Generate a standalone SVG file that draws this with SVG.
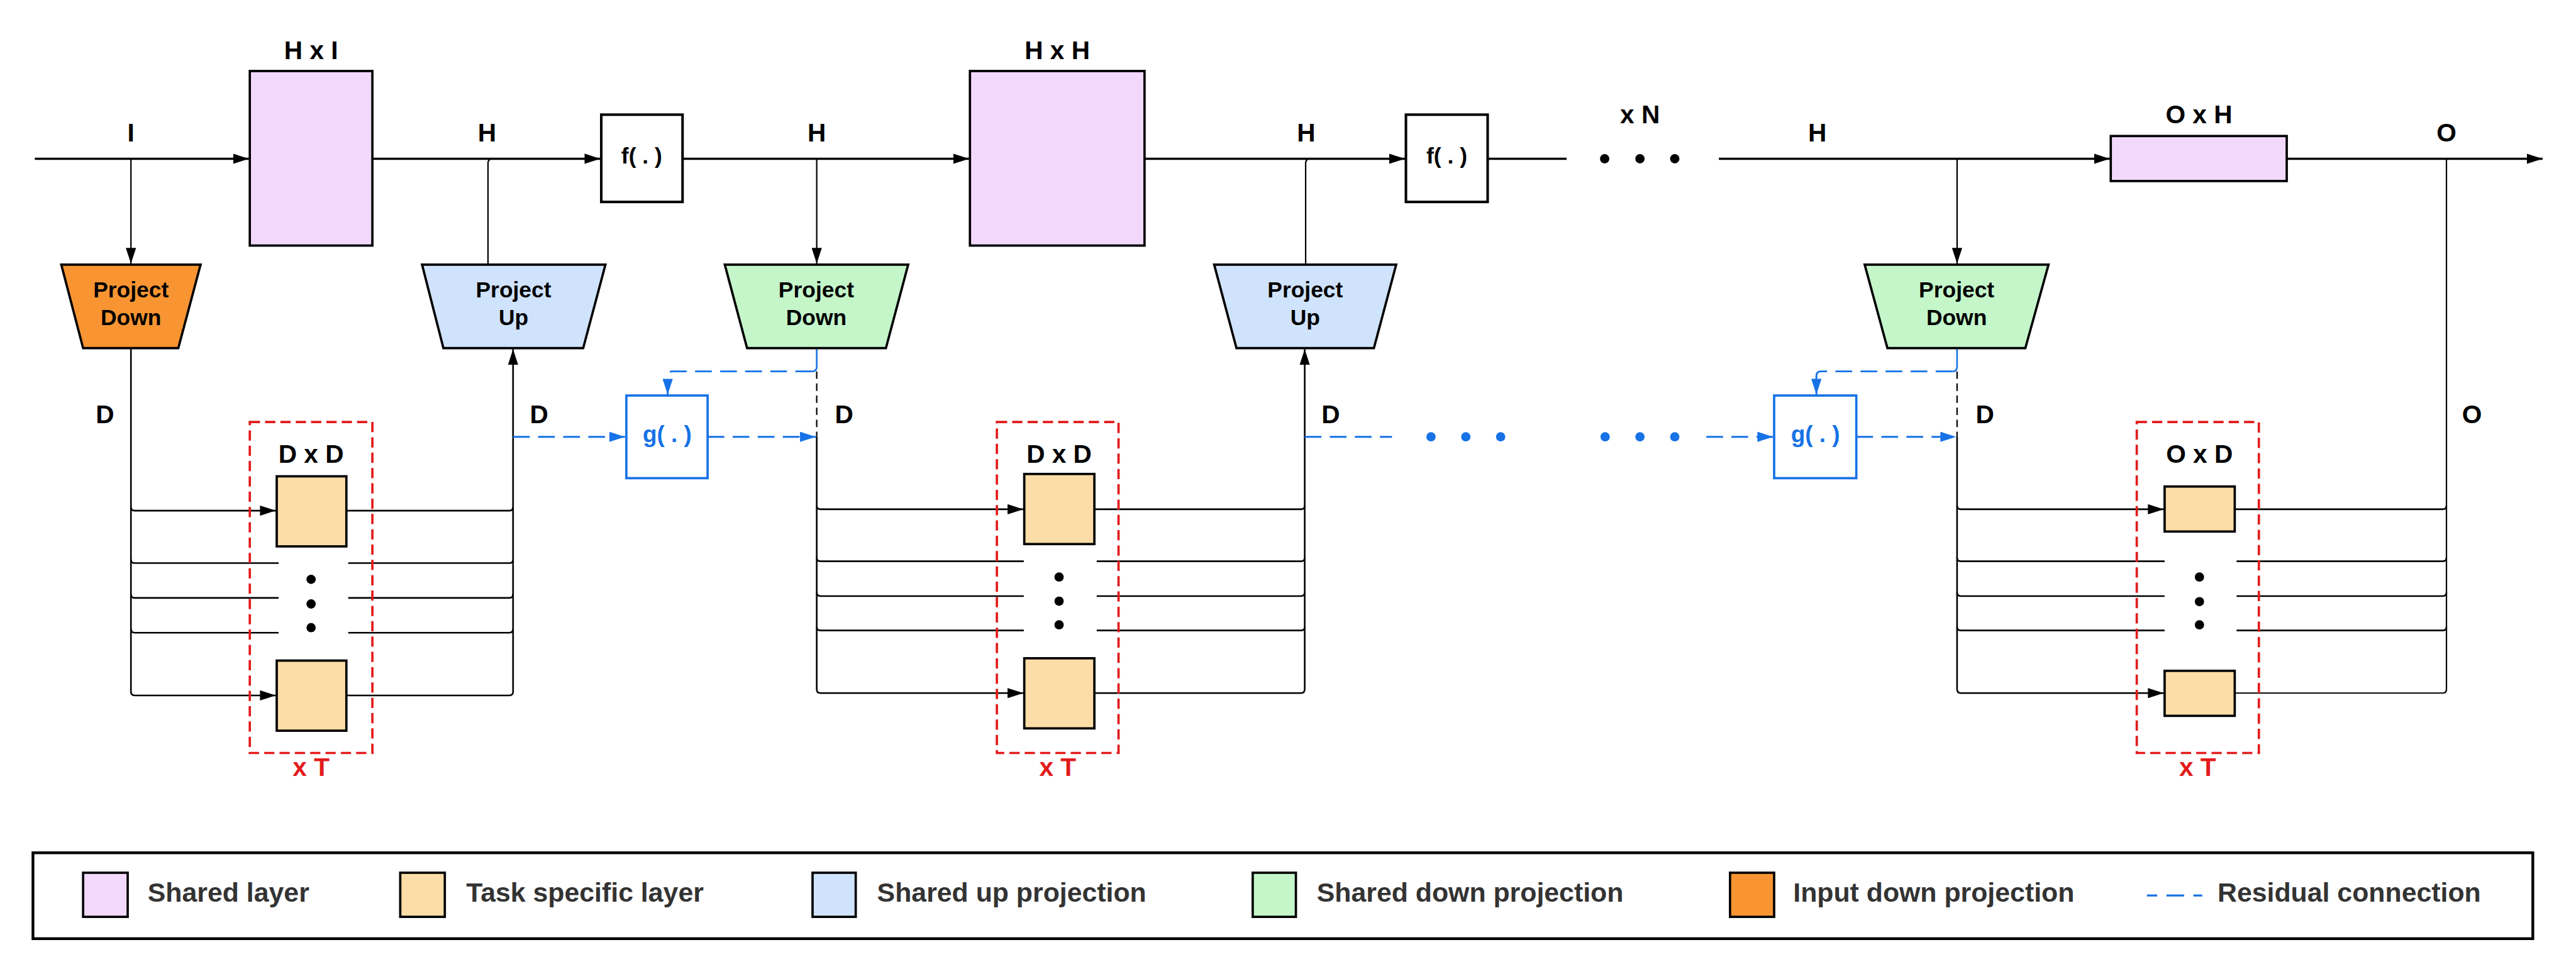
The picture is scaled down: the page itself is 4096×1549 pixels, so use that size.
<svg xmlns="http://www.w3.org/2000/svg" width="4096" height="1549" viewBox="0 0 4096 1549">
<defs>
<marker id="ah" markerUnits="userSpaceOnUse" markerWidth="36" markerHeight="22" refX="34" refY="11" orient="auto" viewBox="0 0 36 22"><path d="M0,0 L34,11 L0,22 z" fill="#000"/></marker>
<marker id="ahb" markerUnits="userSpaceOnUse" markerWidth="36" markerHeight="22" refX="34" refY="11" orient="auto" viewBox="0 0 36 22"><path d="M0,0 L34,11 L0,22 z" fill="#1672e6"/></marker>
</defs>
<style>
text{font-family:"Liberation Sans",Arial,sans-serif;font-weight:bold;}
.lbl{font-size:55px;fill:#000;text-anchor:middle;}
.tl{font-size:48px;fill:#000;text-anchor:middle;}
.red{font-size:55px;fill:#e31b1b;text-anchor:middle;}
.gt{font-size:50px;fill:#1672e6;text-anchor:middle;}
.leg{font-size:58px;fill:#333;}
.shared{fill:#f2d9fc;stroke:#000;stroke-width:5;}
.task{fill:#fcdda7;stroke:#000;stroke-width:5;}
.up{fill:#d0e3fc;stroke:#000;stroke-width:5;}
.down{fill:#c4f6ca;stroke:#000;stroke-width:5;}
.inp{fill:#f89532;stroke:#000;stroke-width:5;}
.fbox{fill:#fff;stroke:#000;stroke-width:5.5;}
.gbox{fill:#fff;stroke:#1672e6;stroke-width:5;}
.tbox{fill:none;stroke:#e31b1b;stroke-width:5;stroke-dasharray:22 11;}
.main{fill:none;stroke:#000;stroke-width:4.5;}
.thin{fill:none;stroke:#000;stroke-width:3;}
.br{fill:none;stroke:#000;stroke-width:3.5;}
.res{fill:none;stroke:#1672e6;stroke-width:4;stroke-dasharray:36 18;}
.bdash{fill:none;stroke:#000;stroke-width:3;stroke-dasharray:16 10;}
</style>
<g transform="scale(0.738284)">
<g id="connectors">
<path class="main" d="M75,342 H536" marker-end="url(#ah)"/>
<path class="main" d="M802,342 H1293" marker-end="url(#ah)"/>
<path class="main" d="M1470,342 H2087" marker-end="url(#ah)"/>
<path class="main" d="M2465,342 H3026" marker-end="url(#ah)"/>
<path class="main" d="M3204,342 H3374"/>
<path class="main" d="M3702,342 H4544" marker-end="url(#ah)"/>
<path class="main" d="M4925,342 H5476" marker-end="url(#ah)"/>
<circle cx="3456" cy="342" r="10" fill="#000"/>
<circle cx="3532" cy="342" r="10" fill="#000"/>
<circle cx="3607" cy="342" r="10" fill="#000"/>
<path class="thin" d="M282,342 V568" marker-end="url(#ah)"/>
<path class="thin" d="M1759,342 V568" marker-end="url(#ah)"/>
<path class="thin" d="M4215,342 V568" marker-end="url(#ah)"/>
<path class="thin" d="M1051,570 V352 Q1051,342 1061,342"/>
<path class="thin" d="M2812,570 V352 Q2812,342 2822,342"/>
<path class="br" d="M282,750 V1490 Q282,1498 290,1498 H594" marker-end="url(#ah)"/>
<path class="br" d="M282,1092 Q282,1100 290,1100 H594" marker-end="url(#ah)"/>
<path class="br" d="M282,1205 Q282,1213 290,1213 H600"/>
<path class="br" d="M282,1280 Q282,1288 290,1288 H600"/>
<path class="br" d="M282,1355 Q282,1363 290,1363 H600"/>
<path class="br" d="M746,1498 H1097 Q1105,1498 1105,1490 V752" marker-end="url(#ah)"/>
<path class="br" d="M746,1100 H1097 Q1105,1100 1105,1092"/>
<path class="br" d="M750,1213 H1097 Q1105,1213 1105,1205"/>
<path class="br" d="M750,1288 H1097 Q1105,1288 1105,1280"/>
<path class="br" d="M750,1363 H1097 Q1105,1363 1105,1355"/>
<path class="bdash" d="M1759,800 V941"/>
<path class="br" d="M1759,941 V1485 Q1759,1493 1767,1493 H2204" marker-end="url(#ah)"/>
<path class="br" d="M1759,1089 Q1759,1097 1767,1097 H2204" marker-end="url(#ah)"/>
<path class="br" d="M1759,1201 Q1759,1209 1767,1209 H2205"/>
<path class="br" d="M1759,1276 Q1759,1284 1767,1284 H2205"/>
<path class="br" d="M1759,1350 Q1759,1358 1767,1358 H2205"/>
<path class="br" d="M2357,1493 H2802 Q2810,1493 2810,1485 V752" marker-end="url(#ah)"/>
<path class="br" d="M2357,1097 H2802 Q2810,1097 2810,1089"/>
<path class="br" d="M2362,1209 H2802 Q2810,1209 2810,1201"/>
<path class="br" d="M2362,1284 H2802 Q2810,1284 2810,1276"/>
<path class="br" d="M2362,1358 H2802 Q2810,1358 2810,1350"/>
<path class="bdash" d="M4215,800 V941"/>
<path class="br" d="M4215,941 V1485 Q4215,1493 4223,1493 H4660" marker-end="url(#ah)"/>
<path class="br" d="M4215,1089 Q4215,1097 4223,1097 H4660" marker-end="url(#ah)"/>
<path class="br" d="M4215,1201 Q4215,1209 4223,1209 H4662"/>
<path class="br" d="M4215,1276 Q4215,1284 4223,1284 H4662"/>
<path class="br" d="M4215,1350 Q4215,1358 4223,1358 H4662"/>
<path class="thin" d="M5269,342 V1485 Q5269,1493 5261,1493 H4813"/>
<path class="br" d="M4813,1097 H5261 Q5269,1097 5269,1089"/>
<path class="br" d="M4817,1209 H5261 Q5269,1209 5269,1201"/>
<path class="br" d="M4817,1284 H5261 Q5269,1284 5269,1276"/>
<path class="br" d="M4817,1358 H5261 Q5269,1358 5269,1350"/>
<path class="res" d="M1105,941 H1346" marker-end="url(#ahb)"/>
<path class="res" d="M1524,941 H1757" marker-end="url(#ahb)"/>
<path fill="none" stroke="#1672e6" stroke-width="3.5" d="M1759,752 V790 Q1759,800 1749,800"/>
<path class="res" d="M1749,800 H1448 Q1438,800 1438,810 V850" marker-end="url(#ahb)"/>
<path class="res" d="M2810,941 H2998"/>
<path class="res" d="M3675,941 H3819" marker-end="url(#ahb)"/>
<path class="res" d="M3998,941 H4213" marker-end="url(#ahb)"/>
<path fill="none" stroke="#1672e6" stroke-width="3.5" d="M4215,752 V790 Q4215,800 4205,800"/>
<path class="res" d="M4205,800 H3922 Q3912,800 3912,810 V850" marker-end="url(#ahb)"/>
<g fill="#1672e6">
<circle cx="3082" cy="941" r="10"/><circle cx="3157" cy="941" r="10"/><circle cx="3232" cy="941" r="10"/>
<circle cx="3457" cy="941" r="10"/><circle cx="3532" cy="941" r="10"/><circle cx="3607" cy="941" r="10"/>
</g>
</g>
<g id="shared1"><rect class="shared" x="538" y="153" width="264" height="376"/><text class="lbl" x="670" y="127">H x I</text></g>
<g id="shared2"><rect class="shared" x="2089" y="153" width="376" height="376"/><text class="lbl" x="2277" y="127">H x H</text></g>
<g id="shared3"><rect class="shared" x="4546" y="293" width="379" height="97"/><text class="lbl" x="4736" y="266">O x H</text></g>
<g id="f1"><rect class="fbox" x="1295" y="247" width="175" height="188"/><text class="tl" x="1382" y="352">f( . )</text></g>
<g id="f2"><rect class="fbox" x="3028" y="247" width="176" height="188"/><text class="tl" x="3116" y="352">f( . )</text></g>
<g id="g1"><rect class="gbox" x="1349" y="852" width="175" height="178"/><text class="gt" x="1437" y="952">g( . )</text></g>
<g id="g2"><rect class="gbox" x="3821" y="852" width="177" height="178"/><text class="gt" x="3910" y="952">g( . )</text></g>
<g id="pd1"><polygon class="inp" points="132,570 432,570 384,750 179,750"/><text class="tl" x="282" y="640">Project</text><text class="tl" x="282" y="700">Down</text></g>
<g id="pu1"><polygon class="up" points="909,570 1304,570 1256,750 955,750"/><text class="tl" x="1106" y="640">Project</text><text class="tl" x="1106" y="700">Up</text></g>
<g id="pd2"><polygon class="down" points="1561,570 1956,570 1908,750 1609,750"/><text class="tl" x="1758" y="640">Project</text><text class="tl" x="1758" y="700">Down</text></g>
<g id="pu2"><polygon class="up" points="2615,570 3007,570 2959,750 2663,750"/><text class="tl" x="2811" y="640">Project</text><text class="tl" x="2811" y="700">Up</text></g>
<g id="pd3"><polygon class="down" points="4016,570 4412,570 4362,750 4065,750"/><text class="tl" x="4214" y="640">Project</text><text class="tl" x="4214" y="700">Down</text></g>
<g id="task1">
<rect class="tbox" x="538" y="909" width="264" height="713"/>
<rect class="task" x="596" y="1026" width="150" height="151"/>
<rect class="task" x="596" y="1423" width="150" height="151"/>
<circle cx="670" cy="1248" r="10"/><circle cx="670" cy="1301" r="10"/><circle cx="670" cy="1352" r="10"/>
<text class="lbl" x="670" y="997">D x D</text><text class="red" x="670" y="1671">x T</text>
</g>
<g id="task2">
<rect class="tbox" x="2147" y="909" width="262" height="713"/>
<rect class="task" x="2206" y="1021" width="151" height="151"/>
<rect class="task" x="2206" y="1418" width="151" height="151"/>
<circle cx="2281" cy="1243" r="10"/><circle cx="2281" cy="1295" r="10"/><circle cx="2281" cy="1346" r="10"/>
<text class="lbl" x="2281" y="997">D x D</text><text class="red" x="2278" y="1671">x T</text>
</g>
<g id="task3">
<rect class="tbox" x="4602" y="909" width="263" height="713"/>
<rect class="task" x="4662" y="1048" width="151" height="97"/>
<rect class="task" x="4662" y="1445" width="151" height="97"/>
<circle cx="4737" cy="1243" r="10"/><circle cx="4737" cy="1296" r="10"/><circle cx="4737" cy="1346" r="10"/>
<text class="lbl" x="4737" y="997">O x D</text><text class="red" x="4733" y="1671">x T</text>
</g>
<g id="labels">
<text class="lbl" x="282" y="305">I</text>
<text class="lbl" x="1049" y="305">H</text>
<text class="lbl" x="1759" y="305">H</text>
<text class="lbl" x="2813" y="305">H</text>
<text class="lbl" x="3532" y="266">x N</text>
<text class="lbl" x="3914" y="305">H</text>
<text class="lbl" x="5269" y="305">O</text>
<text class="lbl" x="226" y="912">D</text>
<text class="lbl" x="1161" y="912">D</text>
<text class="lbl" x="1818" y="912">D</text>
<text class="lbl" x="2866" y="912">D</text>
<text class="lbl" x="4275" y="912">D</text>
<text class="lbl" x="5324" y="912">O</text>
</g>
<g id="legend">
<rect x="71" y="1837" width="5384" height="185" fill="#fff" stroke="#000" stroke-width="6"/>
<rect class="shared" x="179" y="1880" width="96" height="95"/>
<text class="leg" x="318" y="1943">Shared layer</text>
<rect class="task" x="862" y="1880" width="96" height="95"/>
<text class="leg" x="1004" y="1943">Task specific layer</text>
<rect class="up" x="1750" y="1880" width="93" height="95"/>
<text class="leg" x="1889" y="1943">Shared up projection</text>
<rect class="down" x="2698" y="1880" width="93" height="95"/>
<text class="leg" x="2836" y="1943">Shared down projection</text>
<rect class="inp" x="3726" y="1880" width="95" height="95"/>
<text class="leg" x="3862" y="1943">Input down projection</text>
<path fill="none" stroke="#1672e6" stroke-width="4.5" d="M4624,1929 H4743" style="stroke-dasharray:38 20;stroke-dashoffset:16"/>
<text class="leg" x="4776" y="1943">Residual connection</text>
</g>
</g>
</svg>
